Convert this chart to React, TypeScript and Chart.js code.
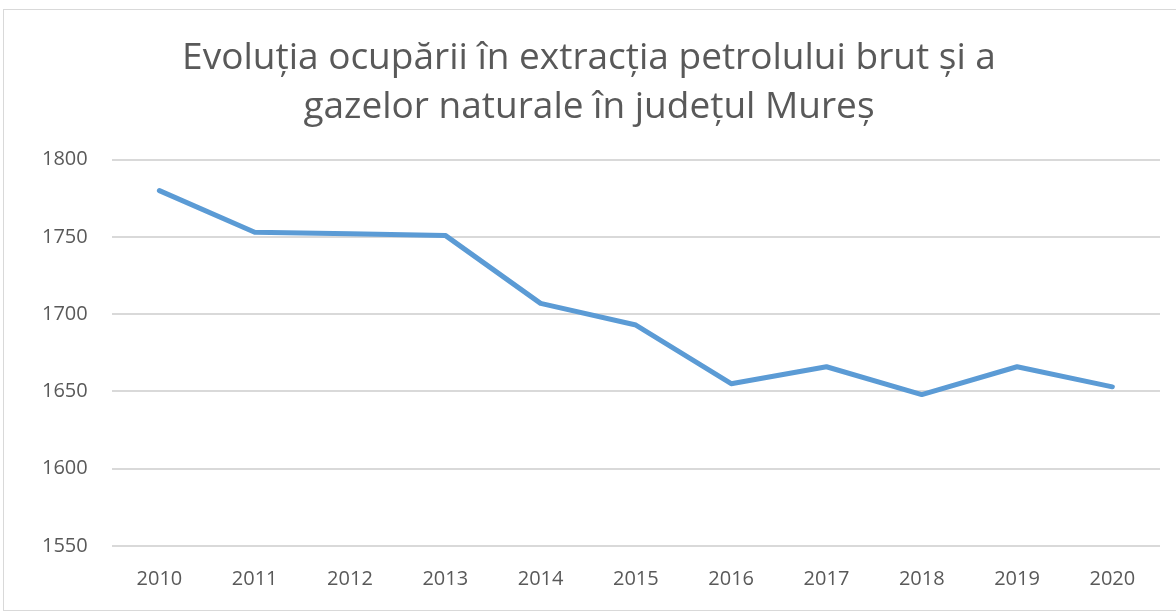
import React, { useEffect, useRef } from "react";
import { Chart, registerables } from "chart.js";

Chart.register(...registerables);

const years = ["2010", "2011", "2012", "2013", "2014", "2015", "2016", "2017", "2018", "2019", "2020"];
const employment = [1780, 1753, 1752, 1751, 1707, 1693, 1655, 1666, 1648, 1666, 1653];
const titleLines = ["Evoluția ocupării în extracția petrolului brut și a", "gazelor naturale în județul Mureș"];

export default function App() {
  const ref = useRef<HTMLCanvasElement | null>(null);
  useEffect(() => {
    if (!ref.current) return;
    const chart = new Chart(ref.current, {
      type: "line",
      data: {
        labels: years,
        datasets: [
          {
            data: employment,
            borderColor: "#5B9BD5",
            backgroundColor: "#5B9BD5",
            borderWidth: 5,
            pointRadius: 0,
            tension: 0,
            borderCapStyle: "round",
            borderJoinStyle: "round",
          },
        ],
      },
      options: {
        animation: false,
        responsive: false,
        layout: { padding: { left: 14, right: 22, top: 0, bottom: 6 } },
        plugins: {
          legend: { display: false },
          tooltip: { enabled: false },
          title: {
            display: true,
            text: titleLines,
            color: "#595959",
            font: { family: "'Open Sans', sans-serif", size: 37, weight: "normal", lineHeight: 1.32 },
            padding: { top: 24, bottom: 28 },
          },
        },
        scales: {
          x: {
            offset: true,
            grid: { display: false },
            border: { display: false },
            ticks: { color: "#595959", font: { family: "'Open Sans', sans-serif", size: 20 }, padding: 13, maxRotation: 0 },
          },
          y: {
            min: 1550,
            max: 1800,
            ticks: {
              stepSize: 50,
              color: "#595959",
              font: { family: "'Open Sans', sans-serif", size: 20 },
              padding: 24,
              callback: (v: any) => String(v),
            },
            grid: { color: "#d9d9d9", lineWidth: 2, drawTicks: false },
            border: { display: false },
          },
        },
      },
    });
    return () => chart.destroy();
  }, []);
  return (
    <div
      style={{
        position: "fixed",
        left: 3,
        top: 9,
        width: 1180,
        height: 602,
        border: "1px solid #d9d9d9",
        background: "#fff",
        boxSizing: "border-box",
      }}
    >
      <canvas ref={ref} width={1178} height={600} style={{ display: "block" }} />
    </div>
  );
}
